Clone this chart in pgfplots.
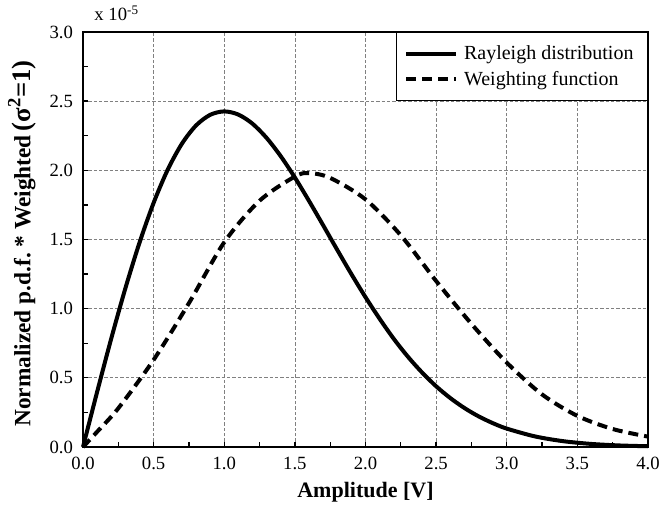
\documentclass[border=0pt]{standalone}
\usepackage{fontspec}
\setmainfont{Liberation Serif}
\usepackage{pgfplots}
\pgfplotsset{compat=1.18}
\begin{document}
\begin{tikzpicture}
\path[use as bounding box] (-62.25pt,-54.75pt) rectangle (435pt,335.25pt);
\begin{axis}[
  at={(0,0)}, anchor=south west,
  scale only axis, width=423.75pt, height=311.25pt,
  xmin=0, xmax=4, ymin=0, ymax=3,
  xtick={0,0.5,1,1.5,2,2.5,3,3.5,4},
  ytick={0,0.5,1,1.5,2,2.5,3},
  minor x tick num=1, minor y tick num=1,
  tick pos=left, tick align=inside,
  major tick length=4pt, minor tick length=4pt,
  every tick/.style={black, line width=1pt},
  grid=major,
  major grid style={gray, dash pattern=on 2.5pt off 1.5pt, line width=0.5pt},
  axis line style={line width=1.5pt},
  /pgf/number format/assume math mode=true,
  xticklabel style={/pgf/number format/fixed, /pgf/number format/fixed zerofill, /pgf/number format/precision=1, yshift=-4pt},
  yticklabel style={/pgf/number format/fixed, /pgf/number format/fixed zerofill, /pgf/number format/precision=1, xshift=-4pt},
  tick label style={font=\fontsize{14}{16}\selectfont},
  xlabel={\textbf{Amplitude [V]}},
  ylabel={{\fontsize{17.5}{20}\selectfont\textbf{Normalized p.d.f.\ * Weighted}}\,{\fontsize{20}{22}\selectfont\textbf{(σ\textsuperscript{2}=1)}}},
  label style={font=\fontsize{16.5}{19}\selectfont},
  xlabel style={at={(axis description cs:0.5,-0.1084)}, anchor=center},
  ylabel style={at={(axis description cs:-0.108,0.49)}, anchor=center},
  legend style={at={(1,1)}, anchor=north east, draw=black, line width=0.75pt,
    font=\fontsize{15}{18}\selectfont, inner xsep=6pt, inner ysep=8pt,
    nodes={inner xsep=4.5pt}, cells={anchor=west}, row sep=3pt},
  legend image code/.code={\draw[#1] (0pt,0pt) -- (37.5pt,0pt);},
  clip=false,
]
\addplot[black, line width=3pt, smooth] coordinates {
(0,0) (0.1,0.398) (0.2,0.784) (0.3,1.147) (0.4,1.477) (0.5,1.765)
(0.6,2.005) (0.7,2.192) (0.8,2.324) (0.9,2.401) (1.0,2.426)
(1.1,2.403) (1.2,2.337) (1.3,2.234) (1.4,2.102) (1.5,1.948)
(1.6,1.779) (1.7,1.603) (1.8,1.425) (1.9,1.250) (2.0,1.083)
(2.1,0.927) (2.2,0.782) (2.3,0.653) (2.4,0.539) (2.5,0.439)
(2.6,0.354) (2.7,0.282) (2.8,0.222) (2.9,0.173) (3.0,0.133)
(3.2,0.0765) (3.4,0.042) (3.6,0.022) (3.8,0.011) (4.0,0.0054)
};
\addlegendentry{Rayleigh distribution}
\addplot[black, line width=3pt, dash pattern=on 7.5pt off 4.5pt, smooth] coordinates {
(0,0) (0.1,0.11) (0.25,0.28) (0.5,0.63) (0.75,1.04)
(1.0,1.48) (1.25,1.78) (1.5,1.955) (1.6,1.98) (1.75,1.945)
(2.0,1.79) (2.25,1.53) (2.5,1.20) (2.75,0.89) (3.0,0.61) (3.25,0.38)
(3.5,0.225) (3.75,0.13) (4.0,0.075)
};
\addlegendentry{Weighting function}
\node[anchor=west, font=\fontsize{14}{16}\selectfont] at (axis description cs:0.012,1.045) {x 10\textsuperscript{-5}};
\end{axis}
\end{tikzpicture}
\end{document}
